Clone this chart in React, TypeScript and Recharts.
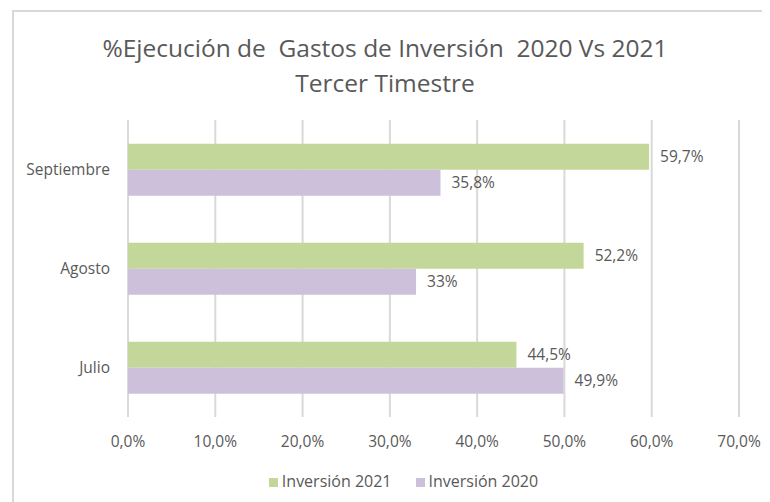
import { BarChart, Bar, XAxis, YAxis, CartesianGrid, Legend, LabelList } from 'recharts';

const months = ['Septiembre', 'Agosto', 'Julio'];
const inversion2021 = [59.7, 52.2, 44.5];
const inversion2020 = [35.8, 33, 49.9];
const xTicks = [0, 10, 20, 30, 40, 50, 60, 70];
const seriesNames = ['Inversión 2021', 'Inversión 2020'];

const data = months.map((m, i) => ({
  mes: m,
  v2021: inversion2021[i],
  v2020: inversion2020[i],
}));

const FONT = "'Open Sans', 'Noto Sans', sans-serif";
const TEXT = '#595959';

const pct = (v: number) => `${String(v).replace('.', ',')}%`;
const tickPct = (v: number) => `${v.toFixed(1).replace('.', ',')}%`;

export default function App() {
  return (
    <div style={{ position: 'relative', width: 762, height: 494, overflow: 'hidden', fontFamily: FONT, background: '#fff' }}>
      <div
        style={{
          position: 'absolute',
          left: 4,
          top: 2,
          width: 820,
          height: 600,
          border: '2px solid #d9d9d9',
        }}
      />
      <div
        style={{
          position: 'absolute',
          left: -4,
          top: 22,
          width: 762,
          textAlign: 'center',
          color: TEXT,
          fontSize: 24.5,
          lineHeight: '35px',
          whiteSpace: 'pre',
        }}
      >
        {'%Ejecución de  Gastos de Inversión  2020 Vs 2021\nTercer Timestre'}
      </div>
      <div style={{ position: 'absolute', left: 0, top: 0 }}>
        <BarChart
          width={762}
          height={494}
          data={data}
          layout="vertical"
          margin={{ top: 112, right: 31, bottom: 10, left: 0 }}
          barCategoryGap="24%"
          barGap={0}
        >
          <CartesianGrid horizontal={false} stroke="#d9d9d9" strokeWidth={2} />
          <XAxis
            type="number"
            domain={[0, 70]}
            ticks={xTicks}
            tickFormatter={tickPct}
            axisLine={false}
            tickLine={false}
            tickMargin={13}
            height={53}
            tick={{ fill: TEXT, fontSize: 15.5, fontFamily: FONT }}
          />
          <YAxis
            type="category"
            dataKey="mes"
            width={120}
            axisLine={false}
            tickLine={false}
            tickMargin={12}
            tick={{ fill: TEXT, fontSize: 15.5, fontFamily: FONT }}
          />
          <Legend
            verticalAlign="bottom"
            iconType="square"
            iconSize={9}
            itemSorter={(item: { value: string }) => seriesNames.indexOf(item.value)}
            wrapperStyle={{ left: 42, fontFamily: FONT, fontSize: 16 }}
            formatter={(value: string) => <span style={{ color: TEXT, marginRight: 14 }}>{value}</span>}
          />
          <Bar dataKey="v2021" name={seriesNames[0]} fill="#c4d79b" isAnimationActive={false}>
            <LabelList dataKey="v2021" position="right" offset={11} formatter={pct} fill={TEXT} fontSize={15.5} fontFamily={FONT} />
          </Bar>
          <Bar dataKey="v2020" name={seriesNames[1]} fill="#ccc0da" isAnimationActive={false}>
            <LabelList dataKey="v2020" position="right" offset={11} formatter={pct} fill={TEXT} fontSize={15.5} fontFamily={FONT} />
          </Bar>
        </BarChart>
      </div>
    </div>
  );
}
